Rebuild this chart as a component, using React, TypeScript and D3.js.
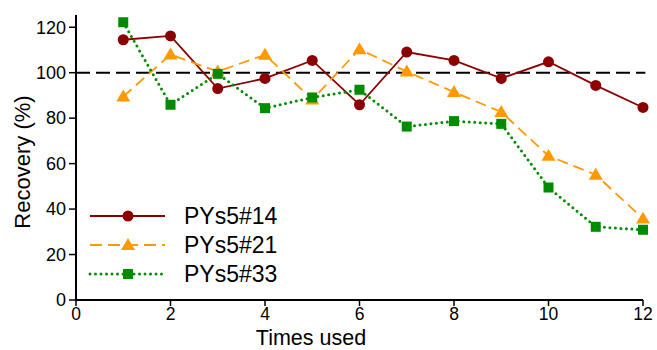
import React from "react";
import * as d3 from "d3";

const timesUsed = [1, 2, 3, 4, 5, 6, 7, 8, 9, 10, 11, 12];
const pys14 = [114.5, 116.2, 93, 97.5, 105.4, 85.9, 109.1, 105.4, 97.5, 104.8, 94.4, 84.7];
const pys21 = [89.5, 108, 100.5, 107.9, 88.2, 110.3, 100.5, 91.5, 82.7, 63.4, 55.1, 35.8];
const pys33 = [122.2, 85.9, 99.5, 84.4, 89.1, 92.5, 76.3, 78.7, 77.5, 49.5, 32.2, 30.9];
const xTicks = [0, 2, 4, 6, 8, 10, 12];
const yTicks = [0, 20, 40, 60, 80, 100, 120];
const seriesNames = ["PYs5#14", "PYs5#21", "PYs5#33"];

const W = 657;
const H = 350;
const FONT = "Liberation Sans, Arial, sans-serif";

export default function App() {
  const x = d3.scaleLinear().domain([0, 12]).range([76, 643]);
  const y = d3.scaleLinear().domain([0, 100]).range([300, 72.7]);
  const yTop = 15;

  const line = (vals: number[]) =>
    d3.line<number>().x((_, i) => x(timesUsed[i])).y((d) => y(d))(vals) || "";

  const colors = ["#8B0000", "#FF9900", "#008C00"];
  const dashes = ["none", "11,6", "0,5.5"];
  const widths = [1.8, 1.8, 3];
  const data = [pys14, pys21, pys33];

  const marker = (k: number, cx: number, cy: number, key: string) => {
    if (k === 0) return <circle key={key} cx={cx} cy={cy} r={5.5} fill={colors[0]} />;
    if (k === 1) {
      const s = 7;
      return (
        <path
          key={key}
          d={`M${cx},${cy - s} L${cx + s},${cy + s * 0.7} L${cx - s},${cy + s * 0.7} Z`}
          fill={colors[1]}
        />
      );
    }
    return <rect key={key} x={cx - 5} y={cy - 5} width={10} height={10} fill={colors[2]} />;
  };

  const legendY = [216, 245, 274];

  return (
    <svg width={W} height={H} style={{ display: "block", position: "absolute", left: 0, top: 0 }} fontFamily={FONT}>
      <rect width={W} height={H} fill="white" />
      <line x1={x(0)} x2={x(12.05)} y1={y(100)} y2={y(100)} stroke="#000" strokeWidth={2} strokeDasharray="14,6" />
      {data.map((vals, k) => (
        <path
          key={"l" + k}
          d={line(vals)}
          fill="none"
          stroke={colors[k]}
          strokeWidth={widths[k]}
          strokeDasharray={dashes[k]}
          strokeLinecap={k === 2 ? "round" : "butt"}
        />
      ))}
      {data.map((vals, k) =>
        vals.map((v, i) => marker(k, x(timesUsed[i]), y(v), `m${k}-${i}`))
      )}
      <line x1={x(0)} x2={x(0)} y1={yTop} y2={y(0)} stroke="#000" strokeWidth={2} />
      <line x1={x(0) - 1} x2={x(12)} y1={y(0)} y2={y(0)} stroke="#000" strokeWidth={2} />
      {yTicks.map((t) => (
        <g key={"yt" + t}>
          <line x1={x(0) - 7} x2={x(0)} y1={y(t)} y2={y(t)} stroke="#000" strokeWidth={1.5} />
          <text x={x(0) - 10} y={y(t)} dy="0.35em" textAnchor="end" fontSize={18} fill="#000">
            {t}
          </text>
        </g>
      ))}
      {xTicks.map((t) => (
        <g key={"xt" + t}>
          <line x1={x(t)} x2={x(t)} y1={y(0)} y2={y(0) + 6} stroke="#000" strokeWidth={1.5} />
          <text x={x(t)} y={y(0) + 19.5} textAnchor="middle" fontSize={17.5} fill="#000">
            {t}
          </text>
        </g>
      ))}
      <text x={311} y={345} textAnchor="middle" fontSize={21.5} fill="#000">
        Times used
      </text>
      <text
        transform={`translate(30,${162}) rotate(-90)`}
        textAnchor="middle"
        fontSize={22}
        fill="#000"
      >
        Recovery (%)
      </text>
      {seriesNames.map((name, k) => (
        <g key={"lg" + k}>
          <line
            x1={90}
            x2={165}
            y1={legendY[k]}
            y2={legendY[k]}
            stroke={colors[k]}
            strokeWidth={widths[k]}
            strokeDasharray={k === 1 ? "12,6" : dashes[k]}
            strokeLinecap={k === 2 ? "round" : "butt"}
          />
          {marker(k, 128, legendY[k], "lm" + k)}
          <text x={184} y={legendY[k]} dy="0.36em" fontSize={23} fill="#000">
            {name}
          </text>
        </g>
      ))}
    </svg>
  );
}
